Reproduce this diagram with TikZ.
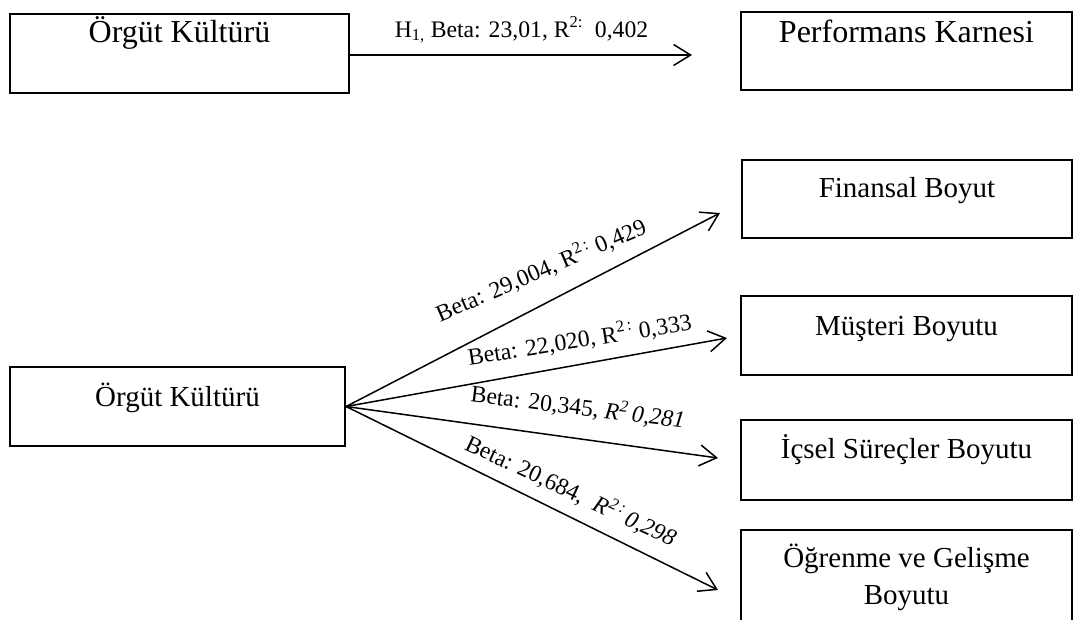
\documentclass[tikz,border=0pt]{standalone}
\usepackage{fontspec}
\setmainfont{Liberation Serif}
\usetikzlibrary{arrows.meta}

\begin{document}
\begin{tikzpicture}[
  x=1pt, y=-1pt,
  box/.style={draw, line width=2.2pt, inner sep=0pt, rectangle,
    font=\fontsize{29}{37}\selectfont,
    text height=14pt, text depth=14pt},
  bigbox/.style={box, font=\fontsize{32}{38}\selectfont},
  link/.style={line width=1.5pt, -{Straight Barb[length=17pt, width=21pt, line width=1.5pt]}},
  lab/.style={font=\fontsize{23.7}{28}\selectfont, inner sep=0pt, anchor=base}
]
\useasboundingbox (0,0) rectangle (1073,619);

% Top row
\node[bigbox, minimum width=339pt, minimum height=79pt, text depth=37pt]
  (ok1) at (179.5,53.5) {Örgüt Kültürü};
\node[bigbox, minimum width=331pt, minimum height=78pt, text depth=32pt]
  (pk) at (906.5,51) {Performans Karnesi};

% Bottom part
\node[box, minimum width=335pt, minimum height=79pt]
  (ok2) at (177.5,406.5) {Örgüt Kültürü};
\node[box, minimum width=330pt, minimum height=78pt, text depth=18pt]
  (fin) at (907,199) {Finansal Boyut};
\node[box, minimum width=331pt, minimum height=79pt]
  (mus) at (906.5,335.5) {Müşteri Boyutu};
\node[box, minimum width=331pt, minimum height=80pt, text depth=18pt]
  (ics) at (906.5,460) {İçsel Süreçler Boyutu};
\node[box, minimum width=331pt, minimum height=120pt, text height=, text depth=,
  label={[font=\fontsize{29}{37}\selectfont, align=center, yshift=12.5pt]center:Öğrenme ve Gelişme\\Boyutu}]
  (ogr) at (906.5,590) {};

% Arrow tips
\coordinate (t0) at (692,55);
\coordinate (t1) at (720,213);
\coordinate (t2) at (727,338);
\coordinate (t3) at (718,458);
\coordinate (t4) at (718,590);

\draw[link] (ok1.east |- t0) -- (t0);
\draw[link] (ok2.east) -- (t1);
\draw[link] (ok2.east) -- (t2);
\draw[link] (ok2.east) -- (t3);
\draw[link] (ok2.east) -- (t4);

% Path coefficients
\node[lab] (l0) at (521.5,37)
  {H\textsubscript{1,} Beta: 23,01, R\textsuperscript{2:}\ \ 0,402};
\node[lab, rotate=23.2] (l1) at (544,277.5)
  {Beta: 29,004, R\textsuperscript{2\,:} 0,429};
\node[lab, rotate=9.1] (l2) at (581,347.5)
  {Beta: 22,020, R\textsuperscript{2\,:} 0,333};
\node[lab, rotate=-7] (l3) at (577,415)
  {Beta: 20,345, \textit{R\textsuperscript{2}\,0,281}};
\node[lab, rotate=-25.1] (l4) at (567.5,498)
  {Beta: 20,684,\ \ \textit{R\textsuperscript{2\,:}\,0,298}};
\end{tikzpicture}
\end{document}
